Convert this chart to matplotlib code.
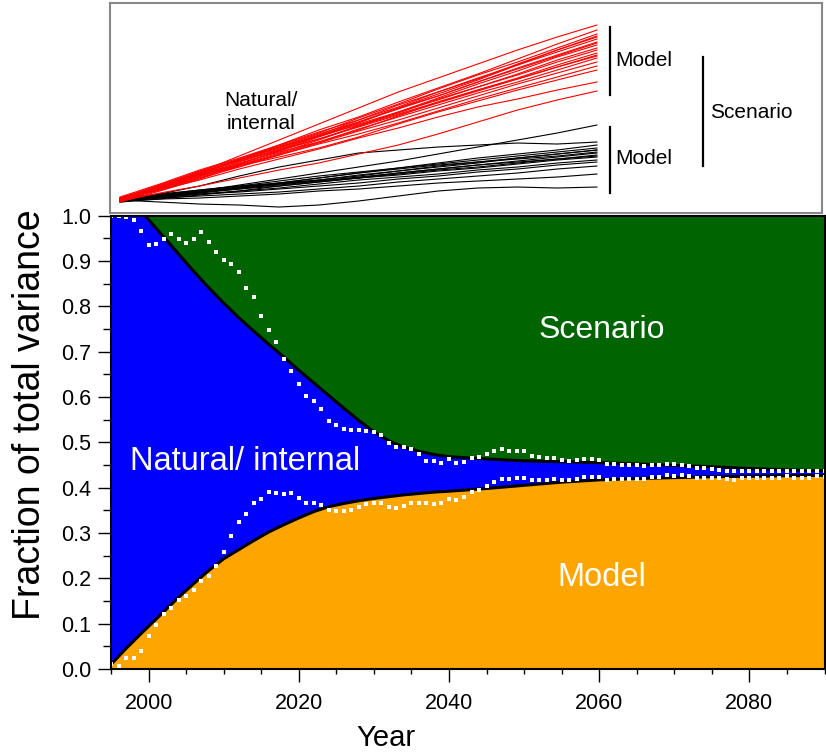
import numpy as np
import matplotlib.pyplot as plt

plt.rcParams['font.family'] = ['Liberation Sans', 'DejaVu Sans']

# smooth fractions of total variance (black curves)
curve_years = [1995, 1997, 1999, 1999.5, 2000, 2002, 2004, 2006, 2008, 2010, 2012, 2014,
               2016, 2018, 2020, 2022, 2024, 2026, 2028, 2030, 2032, 2034, 2036, 2038,
               2040, 2045, 2050, 2055, 2060, 2065, 2070, 2075, 2080, 2085, 2090]
model_frac = [0.010, 0.045, 0.078, 0.086, 0.094, 0.126, 0.158, 0.188, 0.217, 0.243, 0.263, 0.283,
              0.302, 0.318, 0.333, 0.347, 0.358, 0.365, 0.371, 0.376, 0.380, 0.384, 0.387, 0.390,
              0.392, 0.398, 0.405, 0.412, 0.417, 0.420, 0.422, 0.424, 0.425, 0.426, 0.427]
model_plus_internal = [1.0, 1.0, 1.0, 1.0, 0.991, 0.953, 0.915, 0.877, 0.841, 0.807, 0.775, 0.745,
                       0.716, 0.688, 0.659, 0.631, 0.603, 0.575, 0.548, 0.523, 0.503, 0.489, 0.480, 0.473,
                       0.468, 0.463, 0.459, 0.457, 0.455, 0.452, 0.449, 0.446, 0.442, 0.439, 0.437]

# annual values (white dotted)
dot_years = list(range(1995, 2091))
dot_upper = [1.000, 1.000, 0.997, 0.990, 0.966, 0.936, 0.938, 0.949, 0.960, 0.949,
             0.940, 0.949, 0.964, 0.942, 0.919, 0.901, 0.894, 0.876, 0.841, 0.821,
             0.778, 0.748, 0.721, 0.684, 0.658, 0.628, 0.603, 0.592, 0.574, 0.547,
             0.538, 0.530, 0.528, 0.528, 0.525, 0.522, 0.517, 0.499, 0.489, 0.489,
             0.486, 0.475, 0.458, 0.458, 0.455, 0.462, 0.454, 0.457, 0.466, 0.468,
             0.473, 0.481, 0.485, 0.481, 0.481, 0.480, 0.470, 0.468, 0.466, 0.466,
             0.461, 0.459, 0.461, 0.463, 0.462, 0.460, 0.453, 0.451, 0.449, 0.450,
             0.449, 0.448, 0.450, 0.449, 0.452, 0.451, 0.450, 0.447, 0.443, 0.443,
             0.442, 0.438, 0.437, 0.436, 0.436, 0.437, 0.436, 0.436, 0.436, 0.436,
             0.437, 0.436, 0.436, 0.436, 0.437, 0.436]
dot_lower = [0.011, 0.007, 0.024, 0.024, 0.040, 0.073, 0.097, 0.121, 0.135, 0.151,
             0.160, 0.174, 0.195, 0.206, 0.226, 0.259, 0.294, 0.325, 0.342, 0.367,
             0.375, 0.391, 0.388, 0.386, 0.387, 0.377, 0.367, 0.366, 0.361, 0.350,
             0.349, 0.348, 0.351, 0.358, 0.363, 0.367, 0.367, 0.358, 0.355, 0.360,
             0.366, 0.365, 0.365, 0.364, 0.367, 0.375, 0.373, 0.379, 0.390, 0.394,
             0.403, 0.412, 0.419, 0.419, 0.422, 0.422, 0.417, 0.417, 0.417, 0.419,
             0.416, 0.416, 0.419, 0.423, 0.423, 0.423, 0.417, 0.419, 0.419, 0.420,
             0.419, 0.419, 0.423, 0.423, 0.427, 0.426, 0.427, 0.425, 0.422, 0.422,
             0.422, 0.421, 0.419, 0.417, 0.421, 0.421, 0.422, 0.421, 0.421, 0.422,
             0.4245, 0.422, 0.422, 0.422, 0.4245, 0.424]

# inset: schematic projections (13 steps along the run)
run_steps = np.linspace(0, 100, 13)
red_runs = [
    [0, 14, 28, 44, 60, 76, 92, 108, 122, 136, 150, 163, 175],
    [2, 13, 27, 40, 55, 70, 83, 98, 112, 126, 141, 156, 170],
    [0, 15, 29, 41, 54, 67, 82, 96, 111, 125, 138, 152, 166],
    [-2, 12, 26, 40, 52, 65, 80, 95, 108, 121, 136, 150, 163],
    [3, 16, 30, 42, 55, 68, 80, 93, 108, 122, 135, 148, 161],
    [0, 11, 24, 38, 50, 64, 77, 92, 104, 118, 132, 145, 158],
    [1, 14, 28, 39, 50, 61, 74, 88, 102, 116, 129, 143, 155],
    [-1, 12, 25, 36, 49, 63, 76, 88, 100, 113, 126, 140, 152],
    [2, 15, 27, 40, 53, 64, 75, 87, 101, 113, 125, 138, 150],
    [0, 10, 22, 35, 47, 60, 74, 86, 98, 110, 122, 135, 147],
    [1, 13, 26, 37, 48, 58, 70, 84, 98, 110, 121, 133, 145],
    [-2, 9, 21, 34, 46, 58, 71, 83, 95, 107, 118, 130, 142],
    [2, 14, 25, 35, 45, 57, 69, 80, 92, 104, 116, 127, 138],
    [0, 11, 22, 33, 45, 56, 66, 77, 89, 101, 112, 123, 134],
    [1, 12, 24, 34, 43, 52, 63, 76, 88, 99, 110, 120, 130],
    [0, 10, 20, 31, 41, 51, 62, 72, 83, 93, 101, 110, 118],
    [-1, 7, 14, 22, 30, 37, 46, 55, 66, 78, 90, 100, 109],
    [0, 13, 27, 41, 53, 66, 78, 91, 104, 118, 131, 144, 157],
    [1, 11, 23, 36, 49, 61, 73, 85, 97, 109, 121, 133, 144],
    [0, 12, 26, 39, 51, 64, 78, 92, 106, 120, 135, 150, 164],
]
black_runs = [
    [0, 6, 14, 24, 33, 40, 47, 50, 53, 55, 57, 56, 58],
    [0, 4, 9, 15, 21, 27, 33, 39, 46, 53, 60, 67, 75],
    [-2, 3, 8, 13, 17, 22, 27, 32, 37, 42, 46, 50, 55],
    [1, 5, 10, 14, 19, 24, 28, 32, 36, 40, 44, 48, 52],
    [0, 3, 7, 11, 16, 20, 25, 29, 33, 37, 42, 46, 50],
    [-1, 4, 8, 12, 15, 19, 23, 27, 31, 35, 39, 43, 47],
    [0, 2, 6, 9, 14, 18, 22, 26, 30, 33, 37, 41, 45],
    [1, 5, 9, 13, 16, 19, 22, 25, 29, 32, 36, 40, 43],
    [-2, 1, 5, 9, 12, 16, 20, 23, 26, 30, 33, 37, 40],
    [0, 2, 4, 6, 8, 11, 14, 18, 21, 24, 27, 31, 34],
    [0, -2, -4, -5, -7, -5, -1, 4, 9, 12, 13, 12, 13],
    [0, 3, 7, 12, 17, 22, 27, 31, 35, 38, 41, 44, 48],
    [0, 4, 8, 11, 14, 18, 22, 27, 31, 35, 38, 41, 44],
    [0, 1, 2, 4, 6, 9, 11, 14, 17, 19, 21, 23, 26],
    [2, 6, 10, 14, 17, 20, 24, 29, 34, 38, 42, 46, 50],
    [0, 3, 6, 8, 11, 14, 17, 21, 24, 28, 31, 35, 38],
]

fig = plt.figure(figsize=(8.26, 7.53), dpi=100)

# ---- main stacked panel
ax = fig.add_axes([0.1344, 0.1116, 0.8638, 0.6022])
ax.fill_between(curve_years, 0, model_frac, color='#ffa500', lw=0)
ax.fill_between(curve_years, model_frac, model_plus_internal, color='#0000ff', lw=0)
ax.fill_between(curve_years, model_plus_internal, 1, color='#006400', lw=0)
ax.plot(curve_years, model_frac, color='black', lw=2.2)
ax.plot(curve_years, model_plus_internal, color='black', lw=2.2)
ax.plot(dot_years, dot_upper, 's', color='white', ms=3.3, mew=0)
ax.plot(dot_years, dot_lower, 's', color='white', ms=3.3, mew=0)

ax.text(2060.4, 0.748, 'Scenario', color='white', fontsize=23, ha='center', va='center')
ax.text(2012.9, 0.457, 'Natural/ internal', color='white', fontsize=23.5, ha='center', va='center')
ax.text(2060.4, 0.201, 'Model', color='white', fontsize=23.5, ha='center', va='center')

ax.set_xlim(1995, 2090)
ax.set_ylim(0, 1)
ax.set_xticks([2000, 2020, 2040, 2060, 2080])
ax.set_xticks(np.arange(1995, 2091, 5), minor=True)
ax.set_yticks(np.arange(0, 1.01, 0.1))
ax.set_yticks(np.arange(0, 1.01, 0.05), minor=True)
ax.set_yticklabels(['%.1f' % v for v in np.arange(0, 1.01, 0.1)])
ax.tick_params(axis='both', which='both', direction='out', labelsize=15.5, width=1)
ax.tick_params(axis='x', which='major', length=9.5, pad=8)
ax.tick_params(axis='x', which='minor', length=3.6)
ax.tick_params(axis='y', which='major', length=9.5, pad=5, right=True)
ax.tick_params(axis='y', which='minor', length=6, right=True)
for s in ax.spines.values():
    s.set_linewidth(1.5)

fig.text(30 / 826, 1 - 415 / 753, 'Fraction of total variance', rotation=90,
         fontsize=27, ha='center', va='center')
fig.text(386 / 826, 1 - 746 / 753, 'Year', fontsize=21, ha='center', va='baseline')

# ---- schematic inset
ins = fig.add_axes([0.1332, 0.7171, 0.862, 0.2789])
for run in black_runs:
    ins.plot(run_steps, run, color='black', lw=0.8)
for run in red_runs:
    ins.plot(run_steps, run, color='#ff0000', lw=0.8)
ins.plot([102.7, 102.7], [105, 173], color='black', lw=1.6)
ins.plot([102.7, 102.7], [7, 73], color='black', lw=1.6)
ins.plot([122.2, 122.2], [34, 143], color='black', lw=1.6)
ins.text(103.8, 140, 'Model', fontsize=15, va='center')
ins.text(103.8, 42, 'Model', fontsize=15, va='center')
ins.text(123.7, 88, 'Scenario', fontsize=15, va='center')
ins.text(29.6, 88, 'Natural/\ninternal', fontsize=15, ha='center', va='center',
         linespacing=1.25)
ins.set_xlim(-2.1, 147.2)
ins.set_ylim(-13, 197)
ins.set_xticks([])
ins.set_yticks([])
for s in ins.spines.values():
    s.set_color('#888888')
    s.set_linewidth(1.5)

fig.savefig('out.png', dpi=100)
